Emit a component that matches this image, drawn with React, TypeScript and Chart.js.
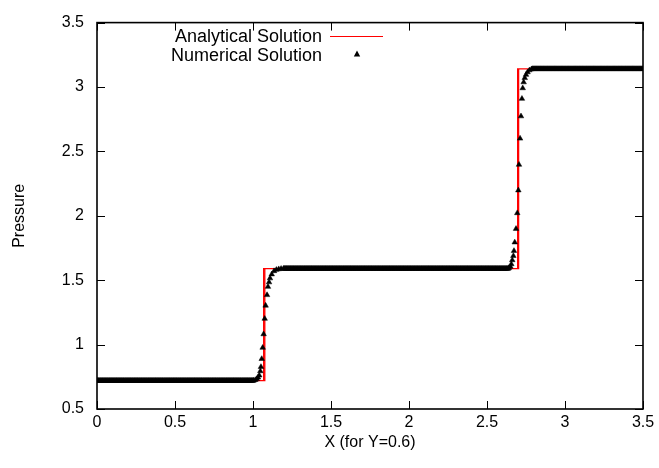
import { useEffect, useRef } from "react";
import { Chart, registerables } from "chart.js";

Chart.register(...registerables);

// ---- data ----
const xTickValues = [0, 0.5, 1, 1.5, 2, 2.5, 3, 3.5];
const yTickValues = [0.5, 1, 1.5, 2, 2.5, 3, 3.5];

// Analytical solution (piecewise constant with two jumps)
const analyticalX = [0, 1.076, 1.076, 1.068, 1.068, 1.076, 1.076, 2.703, 2.703, 2.696, 2.696, 2.703, 2.703, 3.5];
const analyticalY = [0.72, 0.72, 1.59, 1.59, 0.72, 0.72, 1.59, 1.59, 3.14, 3.14, 1.59, 1.59, 3.14, 3.14];

// Numerical solution: plateaus sampled on the solver grid
const gridStep = 0.005;
const plateauStart = [0, 1.2, 2.79];
const plateauEnd = [1.0, 2.635, 3.5];
const plateauLevel = [0.72, 1.59, 3.14];

// Numerical solution: points across the first jump
const jump1X = [1.005, 1.015, 1.025, 1.032, 1.04, 1.047, 1.051, 1.056, 1.062, 1.068, 1.075, 1.081, 1.09, 1.096, 1.103, 1.109, 1.12, 1.135, 1.15, 1.165, 1.18, 1.195];
const jump1Y = [0.722, 0.726, 0.733, 0.745, 0.761, 0.794, 0.827, 0.889, 0.976, 1.081, 1.201, 1.303, 1.385, 1.449, 1.484, 1.515, 1.546, 1.571, 1.581, 1.586, 1.589, 1.59];

// Numerical solution: points across the second jump
const jump2X = [2.64, 2.65, 2.656, 2.662, 2.669, 2.673, 2.678, 2.686, 2.694, 2.701, 2.705, 2.712, 2.718, 2.724, 2.729, 2.735, 2.742, 2.75, 2.76, 2.772, 2.785];
const jump2Y = [1.595, 1.605, 1.625, 1.656, 1.689, 1.728, 1.794, 1.899, 2.021, 2.198, 2.397, 2.6, 2.773, 2.909, 2.991, 3.037, 3.07, 3.095, 3.115, 3.13, 3.138];

const FONT = "'Liberation Sans', Arial, Helvetica, sans-serif";
const TICK_SIZE = 16;
const LEGEND_SIZE = 18;

function buildNumerical() {
  const pts: { x: number; y: number }[] = [];
  const plateau = (i: number) => {
    for (let k = 0; ; k++) {
      const x = plateauStart[i] + k * gridStep;
      if (x > plateauEnd[i] + 1e-9) break;
      pts.push({ x, y: plateauLevel[i] });
    }
  };
  plateau(0);
  jump1X.forEach((x, i) => pts.push({ x, y: jump1Y[i] }));
  plateau(1);
  jump2X.forEach((x, i) => pts.push({ x, y: jump2Y[i] }));
  plateau(2);
  return pts;
}

const framePlugin = {
  id: "gnuplotFrame",
  afterDatasetsDraw(chart: any) {
    const { ctx, chartArea } = chart;
    const { left, right, top, bottom } = chartArea;
    const xs = chart.scales.x;
    const ys = chart.scales.y;
    ctx.save();
    ctx.strokeStyle = "#000";
    ctx.lineWidth = 1;
    ctx.beginPath();
    const tl = 8;
    xs.ticks.forEach((t: any) => {
      const px = Math.round(xs.getPixelForValue(t.value)) + 0.5;
      ctx.moveTo(px, bottom);
      ctx.lineTo(px, bottom - tl);
      ctx.moveTo(px, top);
      ctx.lineTo(px, top + tl);
    });
    ys.ticks.forEach((t: any) => {
      const py = Math.round(ys.getPixelForValue(t.value)) + 0.5;
      ctx.moveTo(left, py);
      ctx.lineTo(left + tl, py);
      ctx.moveTo(right, py);
      ctx.lineTo(right - tl, py);
    });
    ctx.stroke();
    ctx.lineWidth = 1.6;
    ctx.strokeRect(left, top, right - left, bottom - top);

    // legend
    ctx.fillStyle = "#000";
    ctx.font = `${LEGEND_SIZE}px ${FONT}`;
    ctx.textAlign = "right";
    ctx.textBaseline = "middle";
    ctx.fillText("Analytical Solution", 322, 37);
    ctx.fillText("Numerical Solution", 322, 56);
    ctx.strokeStyle = "#ff0000";
    ctx.lineWidth = 1.2;
    ctx.beginPath();
    ctx.moveTo(330, 36.5);
    ctx.lineTo(383, 36.5);
    ctx.stroke();
    ctx.fillStyle = "#000";
    ctx.beginPath();
    ctx.moveTo(357, 50.5);
    ctx.lineTo(360.2, 56.5);
    ctx.lineTo(353.8, 56.5);
    ctx.closePath();
    ctx.fill();

    // axis titles
    ctx.font = `${TICK_SIZE}px ${FONT}`;
    ctx.textAlign = "center";
    ctx.fillText("X (for Y=0.6)", (left + right) / 2, 443);
    ctx.save();
    ctx.translate(20, (top + bottom) / 2);
    ctx.rotate(-Math.PI / 2);
    ctx.fillText("Pressure", 0, 0);
    ctx.restore();
    ctx.restore();
  },
};

export default function App() {
  const ref = useRef<HTMLCanvasElement | null>(null);
  useEffect(() => {
    document.body.style.margin = "0";
    const canvas = ref.current!;
    const chart = new Chart(canvas, {
      type: "scatter",
      data: {
        datasets: [
          {
            label: "Numerical Solution",
            data: buildNumerical(),
            pointStyle: "triangle",
            pointRadius: 3.2,
            pointBackgroundColor: "#000",
            pointBorderColor: "#000",
            pointBorderWidth: 0.5,
            showLine: false,
            order: 1,
          },
          {
            label: "Analytical Solution",
            data: analyticalX.map((x, i) => ({ x, y: analyticalY[i] })),
            showLine: true,
            borderColor: "#ff0000",
            borderWidth: 1.2,
            pointRadius: 0,
            order: 2,
          },
        ],
      },
      options: {
        animation: false,
        responsive: false,
        maintainAspectRatio: false,
        layout: { padding: { top: 18, right: 16, left: 0, bottom: 0 } },
        plugins: { legend: { display: false }, tooltip: { enabled: false } },
        scales: {
          x: {
            type: "linear",
            min: 0,
            max: 3.5,
            afterBuildTicks: (s: any) => {
              s.ticks = xTickValues.map((v) => ({ value: v }));
            },
            afterFit: (s: any) => {
              s.height = 59;
            },
            grid: { display: false, drawTicks: false },
            border: { display: false },
            ticks: {
              color: "#000",
              padding: 4,
              font: { family: FONT, size: TICK_SIZE },
              maxRotation: 0,
              autoSkip: false,
              callback: (v: any) => String(v),
            },
          },
          y: {
            type: "linear",
            min: 0.5,
            max: 3.5,
            afterBuildTicks: (s: any) => {
              s.ticks = yTickValues.map((v) => ({ value: v }));
            },
            afterFit: (s: any) => {
              s.width = 97;
            },
            grid: { display: false, drawTicks: false },
            border: { display: false },
            ticks: {
              color: "#000",
              padding: 13,
              font: { family: FONT, size: TICK_SIZE },
              autoSkip: false,
              callback: (v: any) => String(v),
            },
          },
        },
      },
      plugins: [framePlugin],
    });
    return () => chart.destroy();
  }, []);
  return <canvas ref={ref} width={659} height={468} style={{ display: "block" }} />;
}
